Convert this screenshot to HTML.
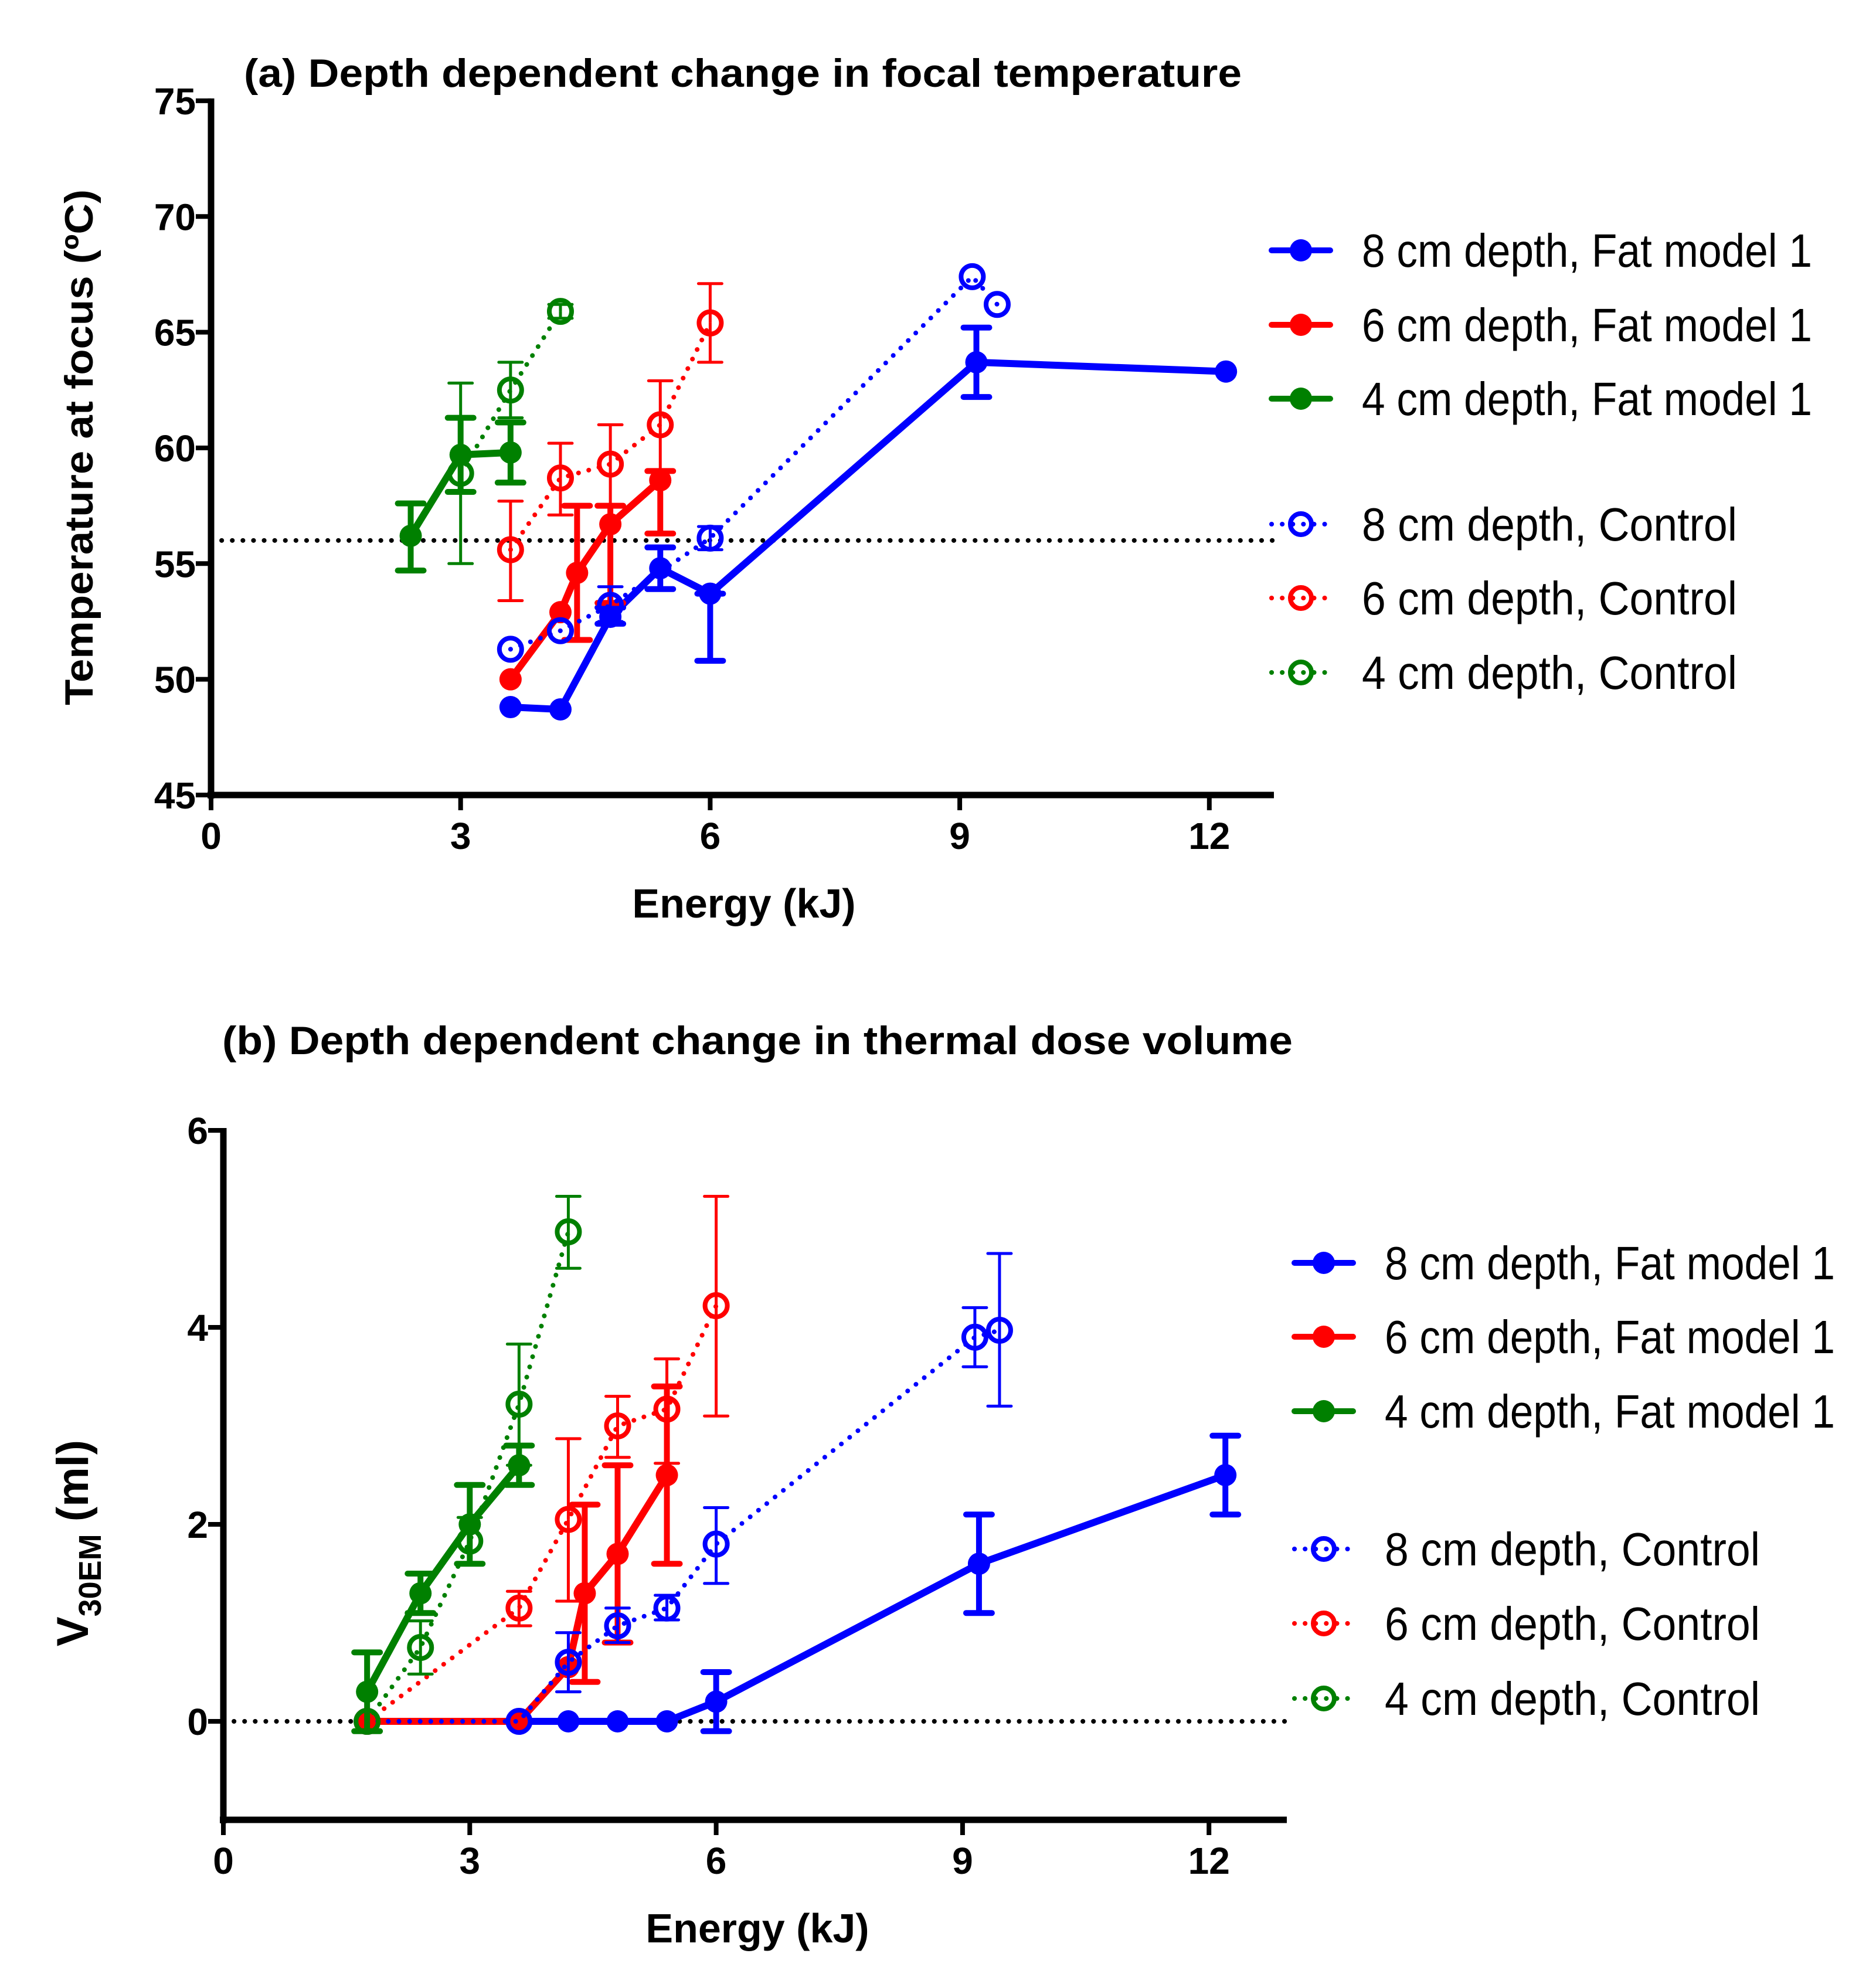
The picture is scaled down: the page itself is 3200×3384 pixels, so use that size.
<!DOCTYPE html>
<html><head><meta charset="utf-8"><style>
html,body{margin:0;padding:0;background:#fff;}
svg{display:block;font-family:"Liberation Sans",Arial,sans-serif;}
</style></head><body>
<svg id="chart" width="3200" height="3384" viewBox="0 0 3200 3384" xmlns="http://www.w3.org/2000/svg">
<rect width="3200" height="3384" fill="#fff"/>
<g id="pa"></g>
<g id="pb"></g>
</svg>
<script>
// ---------- Panel A data ----------
const aXTicks = [0,3,6,9,12];
const aYTicks = [45,50,55,60,65,70,75];
const aBlueFatX = [3.6,4.2,4.8,5.4,6.0,9.2,12.2];
const aBlueFatY = [48.8,48.7,52.7,54.8,53.7,63.7,63.3];
const aBlueFatLo = [null,null,52.4,53.9,50.8,62.2,null];
const aBlueFatHi = [null,null,53.1,55.7,53.7,65.2,null];
const aBlueCtlX = [3.6,4.2,4.8,6.0,9.15,9.45];
const aBlueCtlY = [51.3,52.1,53.2,56.1,67.4,66.2];
const aBlueCtlLo = [null,null,52.5,55.6,null,null];
const aBlueCtlHi = [null,null,54.0,56.6,null,null];
const aRedFatX = [3.6,4.2,4.4,4.8,5.4];
const aRedFatY = [50.0,52.9,54.6,56.7,58.6];
const aRedFatLo = [null,null,51.7,53.3,56.3];
const aRedFatHi = [null,null,57.5,57.5,59.0];
const aRedCtlX = [3.6,4.2,4.8,5.4,6.0];
const aRedCtlY = [55.6,58.7,59.3,61.0,65.4];
const aRedCtlLo = [53.4,57.1,57.5,59.0,63.7];
const aRedCtlHi = [57.7,60.2,61.0,62.9,67.1];
const aGreenFatX = [2.4,3.0,3.6];
const aGreenFatY = [56.2,59.7,59.8];
const aGreenFatLo = [54.7,58.1,58.5];
const aGreenFatHi = [57.6,61.3,61.1];
const aGreenCtlX = [3.0,3.6,4.2];
const aGreenCtlY = [58.9,62.5,65.9];
const aGreenCtlLo = [55.0,61.3,65.6];
const aGreenCtlHi = [62.8,63.7,66.2];
const aRef = 56;
// ---------- Panel B data ----------
const bXTicks = [0,3,6,9,12];
const bYTicks = [0,2,4,6];
const bBlueFatX = [3.6,4.2,4.8,5.4,6.0,9.2,12.2];
const bBlueFatY = [0,0,0,0,0.2,1.6,2.5];
const bBlueFatLo = [null,null,null,null,-0.1,1.1,2.1];
const bBlueFatHi = [null,null,null,null,0.5,2.1,2.9];
const bBlueCtlX = [1.75,3.6,4.2,4.8,5.4,6.0,9.15,9.45];
const bBlueCtlY = [0,0,0.6,0.97,1.15,1.8,3.9,3.97];
const bBlueCtlLo = [null,null,0.3,0.8,1.03,1.4,3.6,3.2];
const bBlueCtlHi = [null,null,0.9,1.15,1.28,2.17,4.2,4.75];
const bRedFatX = [1.75,3.6,4.2,4.4,4.8,5.4];
const bRedFatY = [0,0,0.55,1.3,1.7,2.5];
const bRedFatLo = [null,null,null,0.4,0.8,1.6];
const bRedFatHi = [null,null,null,2.2,2.6,3.4];
const bRedCtlX = [1.75,3.6,4.2,4.8,5.4,6.0];
const bRedCtlY = [0,1.15,2.05,3.0,3.17,4.22];
const bRedCtlLo = [null,0.97,1.22,2.68,2.62,3.1];
const bRedCtlHi = [null,1.32,2.87,3.3,3.68,5.33];
const bGreenFatX = [1.75,2.4,3.0,3.6];
const bGreenFatY = [0.3,1.3,2.0,2.6];
const bGreenFatLo = [-0.1,1.1,1.6,2.4];
const bGreenFatHi = [0.7,1.5,2.4,2.8];
const bGreenCtlX = [1.75,2.4,3.0,3.6,4.2];
const bGreenCtlY = [0,0.75,1.83,3.22,4.97];
const bGreenCtlLo = [null,0.48,1.6,2.6,4.6];
const bGreenCtlHi = [null,1.02,2.07,3.83,5.33];
const bRef = 0;
const legendLabels = ["8 cm depth, Fat model 1","6 cm depth, Fat model 1","4 cm depth, Fat model 1","8 cm depth, Control","6 cm depth, Control","4 cm depth, Control"];

const NS="http://www.w3.org/2000/svg";
const BLUE="#0000ff",RED="#ff0000",GREEN="#008000";
function mk(tag,attrs,parent){const e=document.createElementNS(NS,tag);for(const k in attrs)e.setAttribute(k,attrs[k]);parent.appendChild(e);return e;}

function panel(g,cfg){
  const sx=v=>cfg.x0+(v-cfg.xmin)*cfg.xs;
  const sy=v=>cfg.yb-(v-cfg.ymin)*cfg.ys;
  let r=mk('line',{x1:cfg.x0,x2:cfg.xEnd,y1:sy(cfg.ref),y2:sy(cfg.ref),stroke:'#000','stroke-width':8,'stroke-dasharray':'0.1 18','stroke-linecap':'round'},g);
  
  
  cfg.series.forEach(s=>{
    const sg=mk('g',{},g);
    
    
    const pts=s.x.map((v,i)=>sx(v)+','+sy(s.y[i])).join(' ');
    const pl=mk('polyline',{points:pts,fill:'none',stroke:s.c,'stroke-width':s.fat?12:8,'stroke-linejoin':'round','stroke-linecap':'round','stroke-dasharray':s.fat?'none':'0.1 18'},sg);
    
    
    s.x.forEach((v,i)=>{
      const cx=sx(v),cy=sy(s.y[i]),w=s.fat?10:5,cw=s.fat?22:20;
      if(s.lo[i]!==null){
        [s.lo[i],s.hi[i]].forEach(b=>{
          const yy=sy(b);
          const eb=mk('line',{x1:cx,x2:cx,y1:cy,y2:yy,stroke:s.c,'stroke-width':w},sg);
          
          
          const cap=mk('line',{x1:cx-cw,x2:cx+cw,y1:yy,y2:yy,stroke:s.c,'stroke-width':w,'stroke-linecap':'round'},sg);
          
          
        });
      }
      const m=s.fat?mk('circle',{cx:cx,cy:cy,r:19,fill:s.c},sg):mk('circle',{cx:cx,cy:cy,r:19,fill:'none',stroke:s.c,'stroke-width':8},sg);
      
      
    });
  });
  const ax=mk('line',{x1:cfg.x0,x2:cfg.x0,y1:sy(cfg.yTicks[cfg.yTicks.length-1])-4,y2:cfg.yb+6,stroke:'#000','stroke-width':11},g);
  
  
  const bx=mk('line',{x1:cfg.x0-6,x2:cfg.xEnd,y1:cfg.yb,y2:cfg.yb,stroke:'#000','stroke-width':11},g);
  
  
  cfg.xTicks.forEach(t=>{
    const tk=mk('line',{x1:sx(t),x2:sx(t),y1:cfg.yb,y2:cfg.yb+26,stroke:'#000','stroke-width':8},g);
    
    
    const tl=mk('text',{x:sx(t),y:cfg.yb+92,'text-anchor':'middle','font-size':64,'font-weight':'bold'},g);
    tl.textContent=t;
    
    
  });
  cfg.yTicks.forEach(t=>{
    const tk=mk('line',{x1:cfg.x0-26,x2:cfg.x0,y1:sy(t),y2:sy(t),stroke:'#000','stroke-width':8},g);
    
    
    const tl=mk('text',{x:cfg.x0-26,y:sy(t)+23,'text-anchor':'end','font-size':64,'font-weight':'bold'},g);
    tl.textContent=t;
    
    
  });
  cfg.legY.forEach((ly,i)=>{
    const s=cfg.series[i];
    const lg=mk('g',{},g);
    
    
    const x1=cfg.legX,x2=cfg.legX+100,mx=(x1+x2)/2;
    mk('line',{x1:x1,x2:x2,y1:ly,y2:ly,stroke:s.c,'stroke-width':s.fat?10:8,'stroke-linecap':'round','stroke-dasharray':s.fat?'none':'0.1 18'},lg);
    if(s.fat)mk('circle',{cx:mx,cy:ly,r:19,fill:s.c},lg);else mk('circle',{cx:mx,cy:ly,r:18,fill:'none',stroke:s.c,'stroke-width':8},lg);
    const t=mk('text',{x:cfg.legX+154,y:ly+28,'font-size':80},lg);
    t.textContent=legendLabels[i];
    t.setAttribute('textLength',s.fat?768:640);
    t.setAttribute('lengthAdjust','spacingAndGlyphs');
  });
}

const pa=document.getElementById('pa');
panel(pa,{x0:360,xmin:0,xs:141.9,yb:1356,ymin:45,ys:39.47,xEnd:2173,ref:aRef,xTicks:aXTicks,yTicks:aYTicks,legX:2169,legY:[427,554,680,894,1020,1147],
 series:[
  {name:'series-8cm-fat',c:BLUE,fat:true,x:aBlueFatX,y:aBlueFatY,lo:aBlueFatLo,hi:aBlueFatHi},
  {name:'series-6cm-fat',c:RED,fat:true,x:aRedFatX,y:aRedFatY,lo:aRedFatLo,hi:aRedFatHi},
  {name:'series-4cm-fat',c:GREEN,fat:true,x:aGreenFatX,y:aGreenFatY,lo:aGreenFatLo,hi:aGreenFatHi},
  {name:'series-8cm-control',c:BLUE,fat:false,x:aBlueCtlX,y:aBlueCtlY,lo:aBlueCtlLo,hi:aBlueCtlHi},
  {name:'series-6cm-control',c:RED,fat:false,x:aRedCtlX,y:aRedCtlY,lo:aRedCtlLo,hi:aRedCtlHi},
  {name:'series-4cm-control',c:GREEN,fat:false,x:aGreenCtlX,y:aGreenCtlY,lo:aGreenCtlLo,hi:aGreenCtlHi}]});
const pb=document.getElementById('pb');
panel(pb,{x0:381,xmin:0,xs:140.1,yb:3104,ymin:-1,ys:168,xEnd:2195,ref:bRef,xTicks:bXTicks,yTicks:bYTicks,legX:2208,legY:[2154,2280,2407,2642,2769,2897],
 series:[
  {name:'series-8cm-fat',c:BLUE,fat:true,x:bBlueFatX,y:bBlueFatY,lo:bBlueFatLo,hi:bBlueFatHi},
  {name:'series-6cm-fat',c:RED,fat:true,x:bRedFatX,y:bRedFatY,lo:bRedFatLo,hi:bRedFatHi},
  {name:'series-4cm-fat',c:GREEN,fat:true,x:bGreenFatX,y:bGreenFatY,lo:bGreenFatLo,hi:bGreenFatHi},
  {name:'series-8cm-control',c:BLUE,fat:false,x:bBlueCtlX,y:bBlueCtlY,lo:bBlueCtlLo,hi:bBlueCtlHi},
  {name:'series-6cm-control',c:RED,fat:false,x:bRedCtlX,y:bRedCtlY,lo:bRedCtlLo,hi:bRedCtlHi},
  {name:'series-4cm-control',c:GREEN,fat:false,x:bGreenCtlX,y:bGreenCtlY,lo:bGreenCtlLo,hi:bGreenCtlHi}]});
</script>
<svg style="position:absolute;left:0;top:0" width="3200" height="3384" xmlns="http://www.w3.org/2000/svg">
<g font-family="Liberation Sans, Arial, sans-serif" font-weight="bold">
<text x="1267" y="148" text-anchor="middle" font-size="68" textLength="1702" lengthAdjust="spacingAndGlyphs">(a) Depth dependent change in focal temperature</text>
<text x="1269" y="1565" text-anchor="middle" font-size="70">Energy (kJ)</text>
<text transform="translate(158,763) rotate(-90)" text-anchor="middle" font-size="68" textLength="880" lengthAdjust="spacingAndGlyphs">Temperature at focus (ºC)</text>
<text x="1292" y="1798" text-anchor="middle" font-size="68" textLength="1826" lengthAdjust="spacingAndGlyphs">(b) Depth dependent change in thermal dose volume</text>
<text x="1292" y="3313" text-anchor="middle" font-size="70">Energy (kJ)</text>
<text transform="translate(150,2632) rotate(-90)" text-anchor="middle" font-size="76">V<tspan font-size="54" dy="22">30EM</tspan><tspan dy="-22"> (ml)</tspan></text>
</g>
</svg>
</body></html>
